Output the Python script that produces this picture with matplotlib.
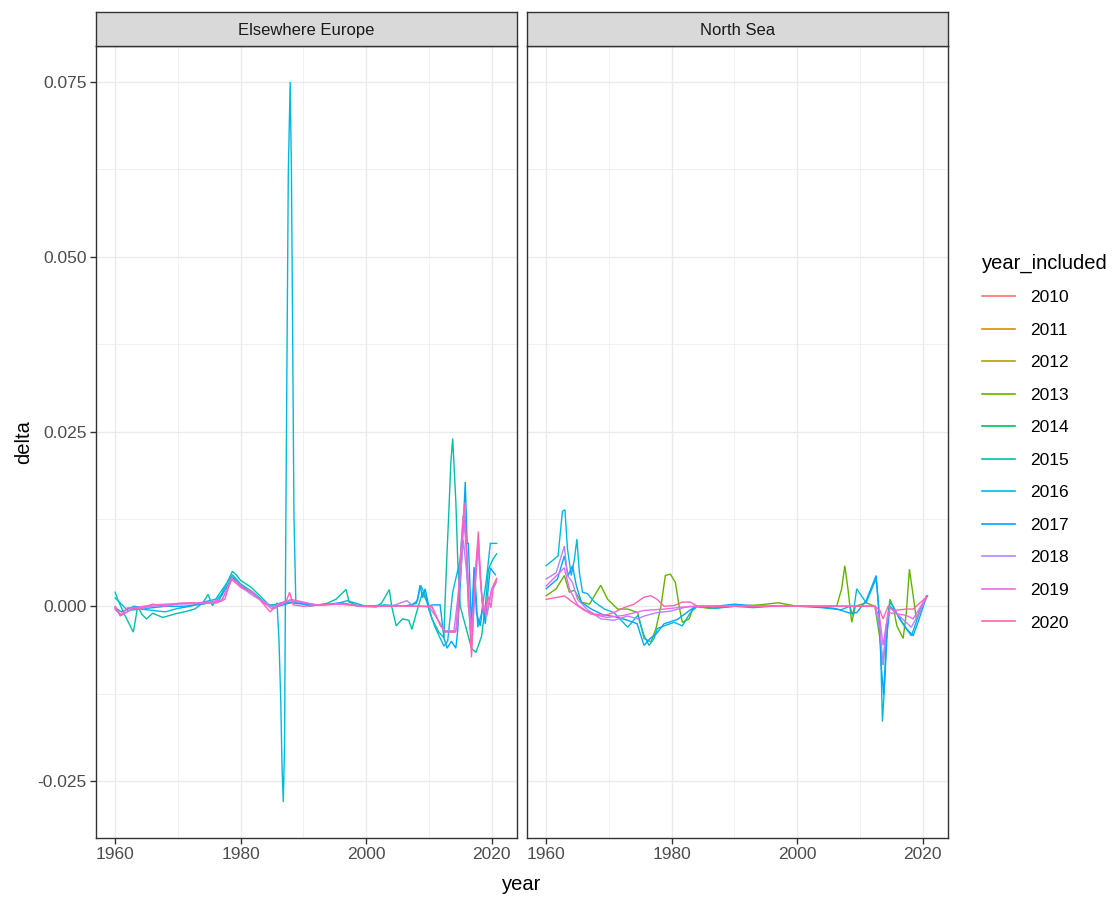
import matplotlib
matplotlib.use("Agg")
import matplotlib.pyplot as plt
from matplotlib.lines import Line2D
from matplotlib.ticker import MultipleLocator

plt.rcParams['font.family'] = ['Liberation Sans', 'DejaVu Sans']

# ---------------- data ----------------
years_included = ["2010", "2011", "2012", "2013", "2014", "2015",
                  "2016", "2017", "2018", "2019", "2020"]
palette = ["#F8766D", "#DB8E00", "#AEA200", "#64B200", "#00BD5C", "#00C1A7",
           "#00BADE", "#00A6FF", "#B385FF", "#EF67EB", "#FF63B6"]
panels = ["Elsewhere Europe", "North Sea"]

# Elsewhere Europe
ee_2015_x = [1960, 1960.5, 1961.5, 1962.9, 1963.6, 1964.3, 1965, 1966, 1967.6, 1969.5, 1971, 1972.7,
             1974, 1974.8, 1975.5, 1977, 1978.7, 1979.3, 1980, 1981.7, 1983.3, 1984.6, 1985.7, 1986.5,
             1987.5, 1989, 1991, 1993.7, 1995.2, 1996.8, 1997.3, 1998.9, 2001.6, 2002.5, 2003.7, 2004.1,
             2004.8, 2005.8, 2006.8, 2007.3, 2008, 2009, 2010, 2010.5, 2011.6, 2012.4, 2012.6, 2012.9,
             2013.2, 2013.5, 2013.8, 2014.3, 2014.6, 2015, 2015.9, 2016.8, 2017.5, 2018.4, 2019, 2019.5,
             2020.2, 2020.8]
ee_2015_y = [0.002, 0.0008, -0.0012, -0.0037, 0.0, -0.0012, -0.0018, -0.001, -0.0016, -0.0011, -0.0008,
             -0.0004, 0.0005, 0.0017, 0.0001, 0.0018, 0.005, 0.0045, 0.0037, 0.0027, 0.0013, 0.0001,
             0.0003, 0.0005, 0.0005, 0.0007, 0.0, 0.0004, 0.001, 0.0024, 0.0006, 0.0, -0.0001, 0.0005,
             0.0024, -0.0001, -0.0028, -0.0018, -0.002, -0.0033, -0.001, 0.002, 0.0, -0.0018, -0.0037,
             -0.0045, 0.001, 0.0077, 0.0138, 0.0205, 0.024, 0.015, 0.0067, 0.0, -0.003, -0.006, -0.0066,
             -0.0043, 0.0, 0.0053, 0.0067, 0.0075]

ee_2016_x = [1960, 1962, 1964, 1966, 1968, 1970, 1972, 1974, 1976, 1978.7, 1980, 1982, 1984, 1985.5,
             1985.8, 1986.1, 1986.4, 1986.6, 1986.8, 1987.0, 1987.2, 1987.4, 1987.6, 1987.9, 1988.1,
             1988.3, 1988.5, 1988.8, 1990, 1992, 1995, 1997, 2000, 2003, 2006, 2008, 2008.7, 2009.5, 2010,
             2011, 2012.4, 2013, 2013.8, 2015, 2015.5, 2016, 2016.3, 2016.8, 2017.3, 2017.8, 2018.4,
             2019.2, 2019.8, 2020.8]
ee_2016_y = [0.0012, -0.0006, -0.0004, -0.0006, -0.0008, -0.0003, 0.0, 0.0006, 0.001, 0.0045, 0.0032,
             0.002, 0.0004, -0.0003, 0.0005, -0.0045, -0.0135, -0.023, -0.028, -0.02, 0.011, 0.037,
             0.062, 0.075, 0.062, 0.038, 0.013, 0.0005, 0.0004, 0.0002, 0.0003, 0.0008, 0.0, 0.0002, 0.0,
             0.0004, 0.003, 0.0014, -0.0005, -0.003, -0.0057, -0.005, 0.002, 0.0067, 0.013, 0.009, 0.0,
             -0.0034, 0.0054, -0.003, -0.001, 0.004, 0.009, 0.009]

ee_2017_x = [1960, 1961, 1963, 1965, 1968, 1971, 1974, 1976.5, 1978.7, 1980, 1982, 1984, 1986, 1988,
             1990, 1993, 1996, 1999, 2002, 2005, 2007, 2008.2, 2008.6, 2009, 2009.4, 2010, 2010.5, 2011.8,
             2012.4, 2012.9, 2013.6, 2014.3, 2014.6, 2015, 2015.3, 2015.8, 2016.1, 2016.3, 2016.8, 2017.2,
             2017.6, 2018.2, 2018.6, 2019, 2019.5, 2019.8, 2020.6]
ee_2017_y = [-0.0002, -0.0008, 0.0, -0.0003, 0.0, 0.0, 0.0003, 0.0008, 0.0042, 0.003, 0.0018, 0.0003,
             0.0, 0.0005, 0.0003, 0.0002, 0.0005, 0.0, 0.0, 0.0, 0.0, 0.0008, 0.003, 0.0012, 0.0025, 0.0,
             0.0002, 0.0002, -0.0045, -0.006, -0.005, -0.006, -0.0035, 0.0029, 0.0077, 0.0178, 0.009,
             0.009, -0.003, 0.0056, -0.001, -0.0028, 0.0, -0.0025, 0.003, 0.0055, 0.0045]

ee_2018_x = [1960, 1961, 1963, 1966, 1970, 1974, 1977, 1978.6, 1980, 1982, 1985, 1988, 1992, 1996, 2000,
             2004, 2006.5, 2007.5, 2010, 2011.5, 2012.5, 2014, 2015, 2015.5, 2016, 2016.7, 2017.3, 2017.8,
             2018.5, 2019.2, 2020, 2020.8]
ee_2018_y = [-0.0005, -0.0012, -0.0003, 0.0, 0.0003, 0.0004, 0.0008, 0.0038, 0.0028, 0.0015, 0.0,
             0.0008, 0.0002, 0.0003, 0.0, 0.0, 0.0008, 0.0, 0.0, -0.002, -0.0035, -0.0035, 0.004, 0.0095,
             0.005, -0.004, 0.002, 0.0085, 0.001, -0.0015, 0.002, 0.0035]

ee_2019_x = [1960, 1961, 1963, 1966, 1970, 1974, 1977, 1978.6, 1980, 1982, 1985, 1988, 1992, 1996, 2000,
             2004, 2008, 2010.5, 2011.8, 2012.6, 2014.3, 2015, 2015.6, 2016.1, 2016.8, 2017.4, 2017.9,
             2018.5, 2019.2, 2020, 2020.8]
ee_2019_y = [-0.0003, -0.0013, -0.0002, 0.0002, 0.0004, 0.0005, 0.0009, 0.0039, 0.0027, 0.0018, -0.0004,
             0.001, 0.0002, 0.0003, 0.0, 0.0, 0.0, 0.0, -0.0027, -0.0036, -0.0036, 0.006, 0.013, 0.006,
             -0.006, 0.003, 0.0095, 0.0005, -0.0012, 0.0025, 0.0038]

ee_2020_x = [1960, 1960.8, 1962, 1964, 1966, 1968, 1970, 1972, 1974, 1976.3, 1977.5, 1978.5, 1979.5,
             1980.6, 1981.8, 1983, 1984.7, 1986, 1987.3, 1987.8, 1988.4, 1990, 1993, 1996, 1999, 2002,
             2005, 2008, 2010.5, 2011.9, 2012.6, 2014.2, 2014.6, 2015, 2015.4, 2015.7, 2016.1, 2016.4,
             2016.8, 2017.2, 2017.5, 2017.9, 2018.2, 2018.6, 2019, 2019.4, 2019.9, 2020.3, 2020.8]
ee_2020_y = [0.0, -0.0014, -0.0002, -0.0004, 0.0003, 0.0, 0.0004, 0.0005, 0.0004, 0.0005, 0.001, 0.004,
             0.0034, 0.0025, 0.0021, 0.001, -0.0008, 0.0003, 0.0008, 0.002, 0.0002, 0.0, 0.0002, 0.0004,
             0.0, 0.0, 0.0, 0.0, -0.0001, -0.0028, -0.0037, -0.0037, -0.0025, 0.0067, 0.012, 0.0148,
             0.0067, -0.0005, -0.0073, 0.001, 0.006, 0.0107, 0.004, -0.0005, -0.001, 0.0015, -0.0002,
             0.003, 0.004]

# North Sea
ns_2013_x = [1960, 1961.6, 1962.9, 1963.7, 1964.5, 1965.6, 1966.9, 1968.7, 1969.8, 1971.4, 1973, 1974.6,
             1975.6, 1976.7, 1977.5, 1978.3, 1979, 1979.8, 1980.6, 1981.2, 1981.7, 1982.8, 1983.5, 1986,
             1990, 1994, 1997, 2000, 2003, 2006.3, 2007.1, 2007.6, 2008.1, 2008.7, 2009.3, 2011, 2012.4,
             2013.2, 2013.7, 2014.2, 2014.8, 2015.3, 2015.9, 2016.9, 2017.4, 2017.9, 2018.5, 2019, 2019.8,
             2020.8]
ns_2013_y = [0.0015, 0.0025, 0.0044, 0.002, 0.0023, 0.0006, 0.0003, 0.003, 0.001, -0.0004, -0.0004,
             -0.0009, -0.0046, -0.0051, -0.0032, 0.0, 0.0044, 0.0046, 0.0034, 0.0, -0.0023, -0.0018, 0.0,
             -0.0003, 0.0, 0.0002, 0.0005, 0.0, 0.0, 0.0, 0.0025, 0.0058, 0.0025, -0.0023, 0.0, 0.0005,
             0.0, -0.0046, -0.0084, -0.003, 0.001, 0.0, -0.0028, -0.0046, -0.001, 0.0053, 0.0015, -0.0018,
             0.0, 0.0015]

ns_2016_x = [1960, 1961.9, 1962.6, 1963, 1963.4, 1964, 1964.5, 1964.9, 1965.3, 1965.8, 1966.6, 1967.7,
             1969.3, 1970.8, 1973, 1974.6, 1975.6, 1976.4, 1977.2, 1977.7, 1978.8, 1980.4, 1981.7, 1983,
             1984.1, 1987, 1990, 1993, 1996, 2000, 2004, 2007, 2008.4, 2008.9, 2009.5, 2011, 2012.6, 2013,
             2013.3, 2013.6, 2014, 2014.4, 2014.8, 2015.5, 2016.3, 2017.4, 2018.2, 2018.7, 2019.5, 2020.6]
ns_2016_y = [0.0058, 0.0072, 0.0136, 0.0138, 0.0082, 0.0044, 0.0067, 0.0096, 0.0048, 0.002, 0.0018,
             0.0006, -0.0004, -0.0009, -0.003, -0.0013, -0.0042, -0.0056, -0.0046, -0.0032, -0.0028,
             -0.0023, -0.0028, -0.0009, 0.0, -0.0003, 0.0, -0.0002, 0.0, 0.0, -0.0002, -0.0005, 0.0,
             -0.0013, 0.0025, 0.0005, 0.004, 0.0, -0.0056, -0.0165, -0.0103, -0.003, 0.0006, -0.0003,
             -0.0018, -0.0032, -0.0042, -0.003, -0.0009, 0.0015]

ns_2017_x = [1960, 1961.8, 1962.9, 1963.5, 1964.2, 1964.8, 1965.6, 1967, 1969, 1971, 1973, 1974.5,
             1975.6, 1976.7, 1977.5, 1978.8, 1980.9, 1983, 1984, 1987, 1990, 1994, 1998, 2002, 2006,
             2008.5, 2009.5, 2011, 2012.6, 2013, 2013.4, 2013.8, 2014.2, 2014.8, 2015.8, 2017.4, 2018.5,
             2019.3, 2020.6]
ns_2017_y = [0.0025, 0.0039, 0.0072, 0.0044, 0.0058, 0.003, 0.0006, -0.0003, -0.0012, -0.0015, -0.002,
             -0.0025, -0.0056, -0.0045, -0.004, -0.0025, -0.0019, -0.0005, 0.0, 0.0, 0.0003, 0.0, 0.0,
             0.0, -0.0003, -0.001, -0.0009, 0.0008, 0.0044, -0.0005, -0.0084, -0.0127, -0.005, 0.0,
             -0.0009, -0.0032, -0.0042, -0.0022, 0.0013]

ns_2018_x = [1960, 1961.6, 1962.9, 1963.4, 1964.2, 1965, 1966.6, 1968.7, 1970.8, 1973, 1974.6, 1975.6,
             1977.7, 1979.8, 1981.9, 1983, 1986, 1990, 1995, 2000, 2005, 2010, 2012.4, 2013.2, 2013.7,
             2014.2, 2014.8, 2017.4, 2018.2, 2019.5, 2020.6]
ns_2018_y = [0.0039, 0.0048, 0.0086, 0.0044, 0.0034, 0.001, -0.0005, -0.0018, -0.002, -0.0014, -0.0018,
             -0.0014, -0.0009, -0.0007, -0.0002, 0.0, 0.0, 0.0, 0.0, 0.0, 0.0, 0.0, 0.0, -0.0033, -0.0084,
             -0.0028, -0.0002, -0.0023, -0.003, -0.0009, 0.0013]

ns_2019_x = [1960, 1962.9, 1963.7, 1965, 1967.1, 1969.7, 1972.4, 1975.6, 1978.8, 1982, 1986, 1995, 2005,
             2012.4, 2013.2, 2013.7, 2014.5, 2017.4, 2018.5, 2020.6]
ns_2019_y = [0.0029, 0.0055, 0.0025, 0.0002, -0.0011, -0.0016, -0.0013, -0.0006, -0.0004, -0.0001, 0.0,
             0.0, 0.0, 0.0, -0.0019, -0.0056, -0.0009, -0.0013, -0.0018, 0.0013]

ns_2020_x = [1960, 1961.9, 1962.9, 1964.2, 1966.1, 1967.7, 1969.3, 1970.8, 1972.4, 1974, 1975.6, 1976.7,
             1977.7, 1978.8, 1980.4, 1981.7, 1983, 1984.1, 1990, 2000, 2010, 2012.4, 2013.2, 2013.7,
             2014.5, 2015.5, 2017.4, 2018.5, 2020.6]
ns_2020_y = [0.001, 0.0013, 0.0015, 0.0006, -0.0006, -0.0011, -0.0013, -0.0009, -0.0002, 0.0003, 0.0013,
             0.0015, 0.001, 0.0, 0.0001, 0.0006, 0.0006, 0.0, 0.0, 0.0, 0.0, 0.0, -0.0006, -0.0018, 0.0,
             -0.0006, -0.0004, -0.0004, 0.0013]

panel_series = {
    "Elsewhere Europe": [("2015", ee_2015_x, ee_2015_y), ("2016", ee_2016_x, ee_2016_y),
                         ("2017", ee_2017_x, ee_2017_y), ("2018", ee_2018_x, ee_2018_y),
                         ("2019", ee_2019_x, ee_2019_y), ("2020", ee_2020_x, ee_2020_y)],
    "North Sea": [("2013", ns_2013_x, ns_2013_y), ("2016", ns_2016_x, ns_2016_y),
                  ("2017", ns_2017_x, ns_2017_y), ("2018", ns_2018_x, ns_2018_y),
                  ("2019", ns_2019_x, ns_2019_y), ("2020", ns_2020_x, ns_2020_y)],
}
x_ticks = [1960, 1980, 2000, 2020]
y_ticks = [-0.025, 0.000, 0.025, 0.050, 0.075]

# ---------------- figure ----------------
W, H = 1116, 898
fig = plt.figure(figsize=(W / 100, H / 100), dpi=100)
fig.patch.set_facecolor("white")

def fx(px):
    return px / W

def fy(py):
    return 1 - py / H

panel_left = [96, 527]
panel_w = 421
panel_top, panel_bottom = 46, 838
strip_top = 12

color_of = dict(zip(years_included, palette))
axes = []
for i, name in enumerate(panels):
    ax = fig.add_axes([fx(panel_left[i]), fy(panel_bottom), panel_w / W, (panel_bottom - panel_top) / H],
                      sharey=axes[0] if axes else None)
    axes.append(ax)
    for yr, xs, ys in panel_series[name]:
        ax.plot(xs, ys, color=color_of[yr], lw=1.0, solid_joinstyle="miter", zorder=3)
    ax.set_xlim(1960 - 61 * 0.05, 2021 + 61 * 0.05)
    ax.set_xticks(x_ticks)
    ax.xaxis.set_minor_locator(MultipleLocator(10))
    ax.yaxis.set_minor_locator(MultipleLocator(0.0125))
    ax.grid(True, which="major", color="#EBEBEB", lw=1.0, zorder=0)
    ax.grid(True, which="minor", color="#EBEBEB", lw=0.5, zorder=0)
    ax.set_axisbelow(True)
    for s in ax.spines.values():
        s.set_color("#333333")
        s.set_linewidth(1.0)
    ax.tick_params(which="major", direction="out", length=4, width=1.0, color="#333333",
                   labelsize=12.5, labelcolor="#4D4D4D", pad=2.5)
    ax.tick_params(which="minor", length=0)
    # strip
    sax = fig.add_axes([fx(panel_left[i]), fy(panel_top), panel_w / W, (panel_top - strip_top) / H])
    sax.set_facecolor("#D9D9D9")
    sax.set_xticks([])
    sax.set_yticks([])
    for s in sax.spines.values():
        s.set_color("#333333")
        s.set_linewidth(1.0)
    sax.text(0.5, 0.45, name, ha="center", va="center", fontsize=12.0, color="#1A1A1A",
             transform=sax.transAxes)

ymin, ymax = -0.028, 0.075
pad = (ymax - ymin) * 0.05
axes[0].set_ylim(ymin - pad, ymax + pad)
axes[0].set_yticks(y_ticks)
axes[0].set_yticklabels([f"{v:.3f}" for v in y_ticks])
axes[1].tick_params(axis="y", which="both", left=False, labelleft=False)

axes[0].set_ylabel("delta", fontsize=14.5, color="black", labelpad=3)
fig.text(fx(522), fy(884), "year", ha="center", va="center", fontsize=14.5, color="black")

handles = [Line2D([0], [0], color=c, lw=1.2) for c in palette]
leg = fig.legend(handles, years_included, title="year_included", loc="upper left",
                 bbox_to_anchor=(fx(966), fy(238)), frameon=False, fontsize=12.5,
                 title_fontsize=14.5, handlelength=1.9, handletextpad=0.9, labelspacing=1.0,
                 alignment="left")

fig.savefig("out.png", dpi=100, facecolor="white")
